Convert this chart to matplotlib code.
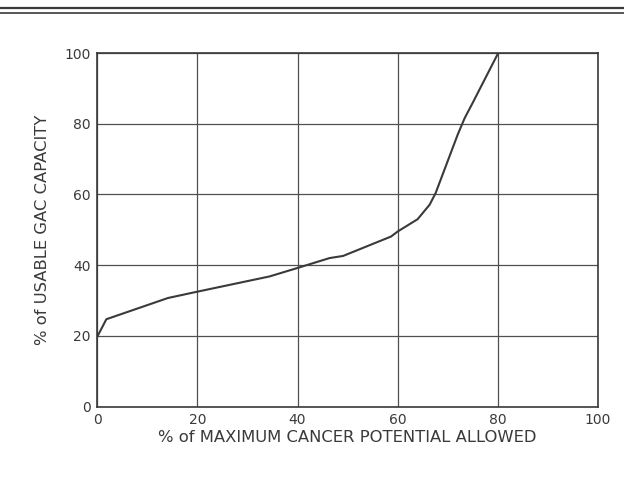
import numpy as np
import matplotlib
matplotlib.use("Agg")
import matplotlib.pyplot as plt

# values
cancer_pct = [0, 1.8, 14.1, 20, 34.4, 40, 46.4, 49.1, 58.7, 60, 64, 66.4, 67.6, 72, 73.4, 75, 80.1]
gac_pct = [19.8, 24.7, 30.7, 32.5, 36.8, 39.2, 42.0, 42.6, 48.1, 49.5, 53.0, 57.1, 60.4, 76.9, 81.6, 85.9, 100]
ticks = [0, 20, 40, 60, 80, 100]

ink = "#3a3a3a"
fig = plt.figure(figsize=(6.24, 4.91), dpi=100)
fig.patch.set_facecolor("white")

# double rule at the top of the page
fig.add_artist(plt.Line2D([0, 1], [1 - 8/491, 1 - 8/491], color=ink, lw=1.6))
fig.add_artist(plt.Line2D([0, 1], [1 - 13/491, 1 - 13/491], color=ink, lw=1.2))

ax = fig.add_axes([0.156, 0.172, 0.802, 0.72])
ax.plot(cancer_pct, gac_pct, color=ink, lw=1.5)
ax.set_xlim(0, 100); ax.set_ylim(0, 100)
ax.set_xticks(ticks); ax.set_yticks(ticks)
ax.grid(True, color="#505050", lw=0.9)
for s in ax.spines.values():
    s.set_color(ink); s.set_linewidth(1.2)
ax.tick_params(length=0, pad=5, labelsize=10, labelcolor=ink)
ax.set_xlabel("% of MAXIMUM CANCER POTENTIAL ALLOWED", fontsize=11.8, color=ink, labelpad=2)
ax.set_ylabel("% of USABLE GAC CAPACITY", fontsize=11.8, color=ink, labelpad=10)

fig.savefig("out.png", dpi=100)
